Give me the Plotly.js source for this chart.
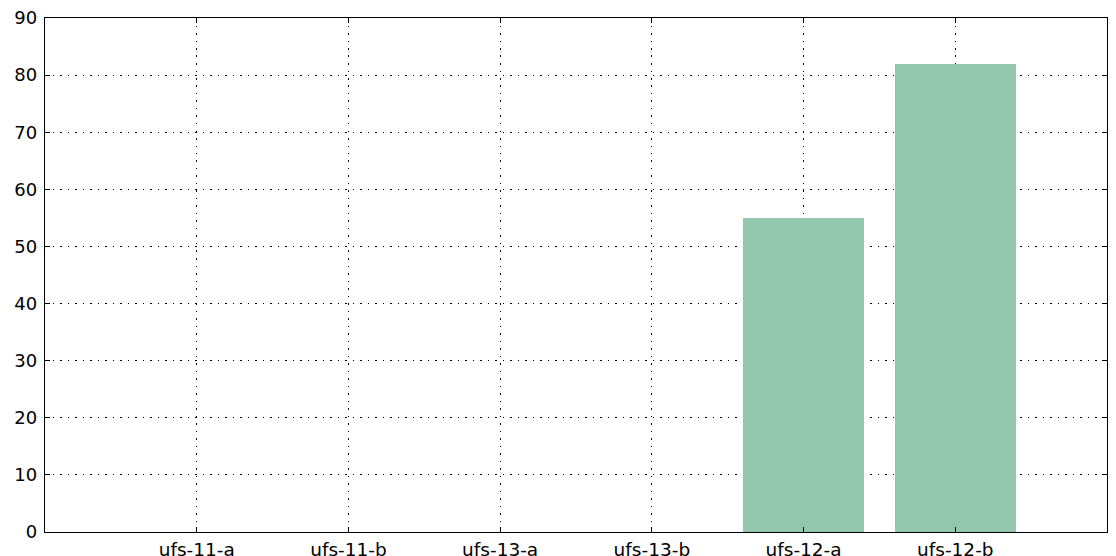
<!DOCTYPE html>
<html>
<head>
<meta charset="utf-8">
<script src="https://cdn.plot.ly/plotly-3.0.1.min.js"></script>
<style>html,body{margin:0;padding:0;background:#fff;}#chart{width:1116px;height:556px;}</style>
</head>
<body>
<div id="chart"></div>
<script>
const categories = ["ufs-11-a", "ufs-11-b", "ufs-13-a", "ufs-13-b", "ufs-12-a", "ufs-12-b"];
const values = [0, 0, 0, 0, 55, 82];
const yTicks = [0, 10, 20, 30, 40, 50, 60, 70, 80, 90];

const trace = {
  type: "bar",
  x: categories.map((c, i) => i),
  y: values,
  width: 0.8,
  marker: {color: "#93c7ad", line: {width: 0}},
  hoverinfo: "none"
};

const layout = {
  width: 1116, height: 556,
  margin: {l: 45, r: 9, t: 18, b: 24},
  paper_bgcolor: "#fff", plot_bgcolor: "#fff",
  font: {family: "DejaVu Sans, sans-serif", size: 18, color: "#000"},
  showlegend: false,
  bargap: 0,
  xaxis: {
    range: [-1, 6],
    tickvals: categories.map((c, i) => i),
    ticktext: categories,
    ticks: "inside", ticklen: 5, tickcolor: "#000", tickwidth: 1,
    showline: true, linecolor: "#000", linewidth: 1.3, mirror: "allticks",
    showgrid: true, gridcolor: "#000", griddash: "1.5px,6px", gridwidth: 1,
    zeroline: false, fixedrange: true,
    tickfont: {size: 18.5}
  },
  yaxis: {
    range: [0, 90],
    tickvals: yTicks,
    ticks: "inside", ticklen: 5, tickcolor: "#000", tickwidth: 1,
    ticklabelstandoff: 3,
    showline: true, linecolor: "#000", linewidth: 1.3, mirror: "allticks",
    showgrid: true, gridcolor: "#000", griddash: "1.5px,6px", gridwidth: 1,
    zeroline: false, fixedrange: true,
    tickfont: {size: 18}
  }
};

Plotly.newPlot("chart", [trace], layout, {displayModeBar: false, staticPlot: true});
</script>
</body>
</html>
